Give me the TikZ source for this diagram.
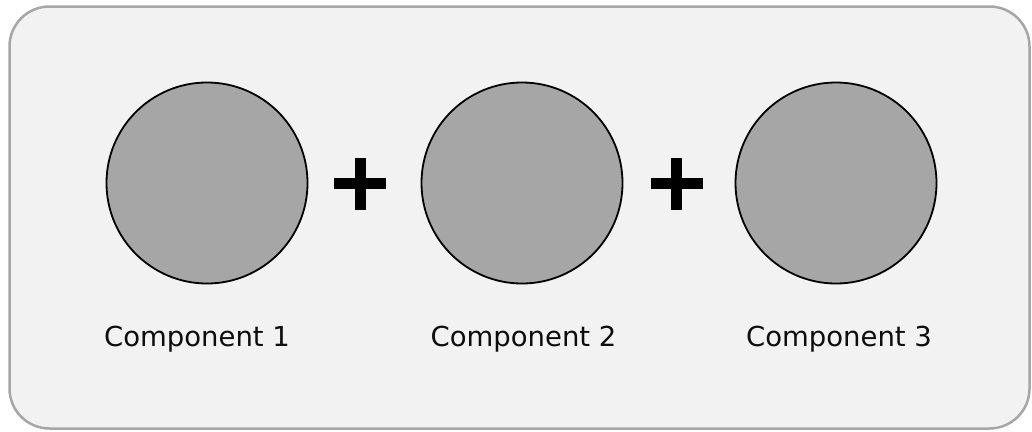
\documentclass[tikz,border=0pt]{standalone}
\usepackage{fontspec}
\newfontfamily\lblfont{DejaVu Sans}
\definecolor{panelbg}{HTML}{F2F2F2}
\definecolor{panelborder}{HTML}{A6A6A6}
\definecolor{discfill}{HTML}{A6A6A6}
\begin{document}
\begin{tikzpicture}[x=1pt,y=-1pt,
  panel/.style={draw=panelborder,fill=panelbg,line width=2.5pt,rounded corners=40pt},
  disc/.style={circle,draw=black,fill=discfill,line width=1.8pt,minimum size=201pt,inner sep=0pt},
  plusbar/.style={fill=black},
  lbl/.style={font=\lblfont\fontsize{27.5}{32}\selectfont,anchor=base,inner sep=0pt,text=black!95}]
\useasboundingbox (0,0) rectangle (1032,431);
\fill[white] (0,0) rectangle (1032,431);
\draw[panel] (9.5,6.5) rectangle (1029.5,428.5);
\node[disc] (c1) at (207,183) {};
\node[disc] (c2) at (522,183) {};
\node[disc] (c3) at (836,183) {};
\foreach \px/\nm in {360/p1,676.5/p2}{
  \coordinate (\nm) at (\px,183.5);
  \fill[plusbar] ([xshift=-26pt,yshift=5.5pt]\nm) rectangle ([xshift=26pt,yshift=-5.5pt]\nm);
  \fill[plusbar] ([xshift=-5.5pt,yshift=26pt]\nm) rectangle ([xshift=5.5pt,yshift=-26pt]\nm);
}
\node[lbl] (l1) at (197,346) {Component 1};
\node[lbl] (l2) at (523.5,346) {Component 2};
\node[lbl] (l3) at (839,346) {Component 3};
\end{tikzpicture}
\end{document}
